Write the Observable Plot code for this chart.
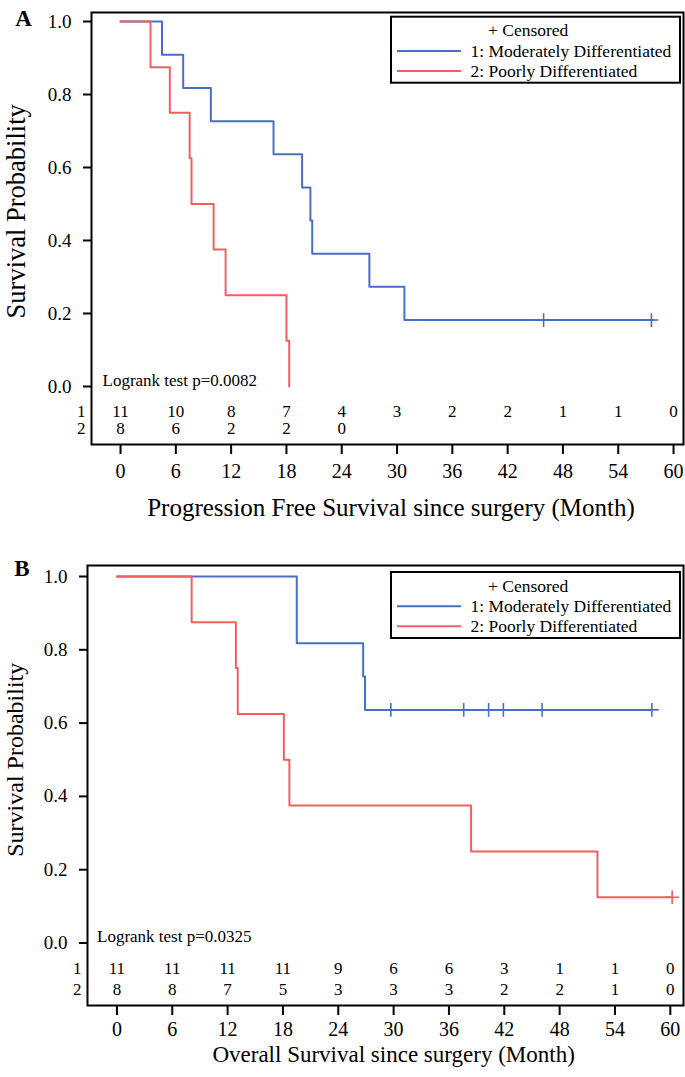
<!DOCTYPE html>
<html><head><meta charset="utf-8">
<script src="https://cdn.jsdelivr.net/npm/d3@7"></script>
<script src="https://cdn.jsdelivr.net/npm/@observablehq/plot@0.6"></script>
<style>
body{margin:0;background:#fff;}
#chart{width:685px;}
#chart svg{display:block;}
</style></head><body><div id="chart"></div>
<script>
// ---- shared ----
const months = [0, 6, 12, 18, 24, 30, 36, 42, 48, 54, 60];
const yTicks = [0, 0.2, 0.4, 0.6, 0.8, 1.0];
const groupIds = ["1", "2"];
const groupNames = ["1: Moderately Differentiated", "2: Poorly Differentiated"];
const groupColors = ["#4a6ec4", "#f35f5f"];
const censorLabel = "+ Censored";
const yLabel = "Survival Probability";

// ---- Panel A: progression free survival ----
const pfsTime1 = [0, 4.5, 6.8, 9.8, 16.6, 19.7, 20.6, 20.8, 27.0, 30.8, 57.9];
const pfsSurv1 = [1, 0.909, 0.818, 0.727, 0.636, 0.545, 0.455, 0.364, 0.273, 0.182, 0.182];
const pfsCensor1 = [45.9, 57.6];
const pfsTime2 = [0, 3.25, 5.35, 7.5, 7.7, 10.1, 11.4, 18.0, 18.3];
const pfsSurv2 = [1, 0.875, 0.75, 0.625, 0.5, 0.375, 0.25, 0.125, 0];
const pfsCensor2 = [];
const pfsRisk1 = [11, 10, 8, 7, 4, 3, 2, 2, 1, 1, 0];
const pfsRisk2 = [8, 6, 2, 2, 0];
const pfsTest = "Logrank test p=0.0082";
const pfsXLabel = "Progression Free Survival since surgery (Month)";

// ---- Panel B: overall survival ----
const osTime1 = [0, 19.5, 26.7, 26.9, 58.0];
const osSurv1 = [1, 0.818, 0.727, 0.636, 0.636];
const osCensor1 = [29.7, 37.6, 40.3, 41.9, 46.1, 58.0];
const osTime2 = [0, 8.1, 12.9, 13.1, 18.1, 18.7, 38.4, 52.1, 60.2];
const osSurv2 = [1, 0.875, 0.75, 0.625, 0.5, 0.375, 0.25, 0.125, 0.125];
const osCensor2 = [60.2];
const osRisk1 = [11, 11, 11, 11, 9, 6, 6, 3, 1, 1, 0];
const osRisk2 = [8, 8, 7, 5, 3, 3, 3, 2, 2, 1, 0];
const osTest = "Logrank test p=0.0325";
const osXLabel = "Overall Survival since surgery (Month)";

const W = 685;
const FONT = "Liberation Serif";

function survAt(times, surv, t) {
  let s = surv[0];
  for (let i = 0; i < times.length; i++) if (times[i] <= t) s = surv[i];
  return s;
}

function legendMark(cfg) {
  return () => {
    const bw = 289, bh = 66;
    const bx = W - cfg.marginRight - 3 - bw;
    const by = cfg.marginTop + cfg.legendInset;
    const g = d3.create("svg:g").attr("font-family", FONT).attr("font-size", 17.5)
      .attr("fill", "black").attr("text-anchor", "start");
    g.append("rect").attr("x", bx).attr("y", by).attr("width", bw).attr("height", bh)
      .attr("fill", "white").attr("stroke", "black").attr("stroke-width", 2);
    g.append("text").attr("x", bx + 97).attr("y", by + 13.5).attr("dy", "0.35em").text(censorLabel);
    groupNames.forEach((name, i) => {
      const yy = by + 34.3 + i * 20;
      g.append("line").attr("x1", bx + 6).attr("x2", bx + 70).attr("y1", yy).attr("y2", yy)
        .attr("stroke", groupColors[i]).attr("stroke-width", 2);
      g.append("text").attr("x", bx + 79.5).attr("y", yy).attr("dy", "0.35em").text(name);
    });
    return g.node();
  };
}

function panel(cfg) {
  const lineData = [];
  const censorData = [];
  cfg.curves.forEach((c, i) => {
    c.time.forEach((t, j) => lineData.push({t, s: c.surv[j], g: groupIds[i]}));
    c.censor.forEach(t => censorData.push({t, s: survAt(c.time, c.surv, t), g: groupIds[i]}));
  });
  const riskData = [];
  cfg.risk.forEach((arr, i) => arr.forEach((n, j) => riskData.push({t: months[j], n, row: cfg.riskY[i]})));
  const xmin = cfg.xDomain[0];
  return Plot.plot({
    width: W,
    height: cfg.height,
    marginTop: cfg.marginTop,
    marginBottom: cfg.marginBottom,
    marginLeft: cfg.marginLeft,
    marginRight: cfg.marginRight,
    style: {fontFamily: FONT, fontSize: "19px", color: "black", background: "white", overflow: "visible"},
    x: {domain: cfg.xDomain},
    y: {domain: cfg.yDomain},
    color: {domain: groupIds, range: groupColors},
    marks: [
      Plot.axisY({ticks: yTicks, tickFormat: d3.format(".1f"), tickSize: 8, tickPadding: 12, strokeWidth: 2, fontSize: 19, label: null}),
      Plot.axisX({ticks: months, tickSize: 10, tickPadding: cfg.xTickPad, strokeWidth: 2, fontSize: 20, label: null}),
      Plot.line(lineData, {x: "t", y: "s", z: "g", stroke: "g", curve: "step-after", strokeWidth: 2}),
      Plot.dot(censorData, {x: "t", y: "s", stroke: "g", symbol: "plus", r: 4.5, strokeWidth: 1.6}),
      Plot.text(riskData, {x: "t", y: "row", text: "n", fontSize: 17}),
      Plot.text(groupIds.map((id, i) => ({id, row: cfg.riskY[i]})), {x: xmin, y: "row", text: "id", textAnchor: "end", dx: -6, fontSize: 17}),
      Plot.text([cfg.test], {x: xmin, y: 0, dx: cfg.testDx, dy: -6, textAnchor: "start", fontSize: 17}),
      Plot.text([yLabel], {x: xmin, y: cfg.yLabelY, dx: cfg.yLabelDx, rotate: -90, fontSize: cfg.yLabelSize}),
      Plot.text([cfg.xLabel], {x: 30, frameAnchor: "bottom", lineAnchor: "bottom", dx: cfg.xLabelDx, dy: cfg.xLabelDy, fontSize: cfg.xLabelSize}),
      Plot.text([cfg.letter], {frameAnchor: "top-left", textAnchor: "middle", lineAnchor: "middle", dx: cfg.letterDx, dy: cfg.letterDy, fontSize: 23, fontWeight: "bold"}),
      Plot.frame({stroke: "black", strokeWidth: 2}),
      legendMark(cfg)
    ]
  });
}

const chart = document.getElementById("chart");
chart.append(panel({
  letter: "A", height: 530, marginTop: 12, marginBottom: 86, marginLeft: 91, marginRight: 2,
  xDomain: [-3.15, 61.08], yDomain: [-0.159, 1.0247], riskY: [-0.0685, -0.115],
  curves: [
    {time: pfsTime1, surv: pfsSurv1, censor: pfsCensor1},
    {time: pfsTime2, surv: pfsSurv2, censor: pfsCensor2}
  ],
  risk: [pfsRisk1, pfsRisk2], test: pfsTest, testDx: 11, xLabel: pfsXLabel, xTickPad: 9,
  xLabelDx: -6, xLabelDy: 71, xLabelSize: 25, yLabelDx: -75, yLabelY: 0.48, yLabelSize: 26.5,
  letterDx: -68, letterDy: 6, legendInset: 4.7
}));
chart.append(panel({
  letter: "B", height: 547, marginTop: 35, marginBottom: 72, marginLeft: 87, marginRight: 2,
  xDomain: [-3.19, 61.43], yDomain: [-0.1705, 1.030], riskY: [-0.0685, -0.126],
  curves: [
    {time: osTime1, surv: osSurv1, censor: osCensor1},
    {time: osTime2, surv: osSurv2, censor: osCensor2}
  ],
  risk: [osRisk1, osRisk2], test: osTest, testDx: 9.5, xLabel: osXLabel, xTickPad: 6,
  xLabelDx: 0, xLabelDy: 56, xLabelSize: 23, yLabelDx: -72, yLabelY: 0.5, yLabelSize: 24,
  letterDx: -65.5, letterDy: 3, legendInset: 7
}));
</script></body></html>
